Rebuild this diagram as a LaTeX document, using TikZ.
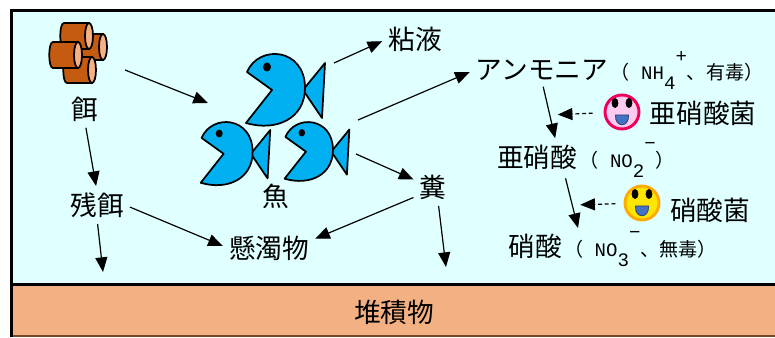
\documentclass[tikz,border=0pt]{standalone}
\usepackage{fontspec}
\newfontfamily\jp{Noto Sans CJK JP}
\newfontfamily\mono{Liberation Mono}
\usetikzlibrary{arrows.meta}

\definecolor{water}{RGB}{224,255,255}
\definecolor{silt}{RGB}{243,177,131}
\definecolor{siltedge}{RGB}{120,70,40}
\definecolor{fishblue}{RGB}{0,176,240}
\definecolor{logbrown}{RGB}{197,90,17}
\definecolor{logend}{RGB}{244,177,131}
\definecolor{pinkface}{RGB}{255,204,240}
\definecolor{pinkrim}{RGB}{236,0,90}
\definecolor{yellowface}{RGB}{255,230,0}
\definecolor{yellowrim}{RGB}{255,170,0}
\definecolor{tongue}{RGB}{68,114,196}

% ion charge: lowered count, raised sign
\newcommand\ion[2]{\raisebox{-0.55em}{#1}\raisebox{0.9em}{#2}}

\tikzset{
  lbl/.style={inner sep=0.75pt, font=\jp\fontsize{20}{22}\selectfont},
  chem/.style={inner sep=0.75pt, font=\jp\fontsize{14.3}{16}\selectfont},
  arr/.style={-{Triangle[length=11pt,width=9pt]}, line width=0.9pt},
  darr/.style={arr, densely dashed},
  gap/.style={shorten <=4pt, shorten >=4pt},
  pics/fish/.style={code={
    \begin{scope}[yscale=-1]
    \filldraw[fill=fishblue, line width=1.3pt, line join=round] (26,2) -- (48,-25) -- (45,30) -- cycle;
    \filldraw[fill=fishblue, line width=1.3pt, line join=round] (-5,2) -- (-30,-16) .. controls (-18,-44) and (28,-40) .. (28,0) .. controls (28,30) and (0,44) .. (-31,35) -- cycle;
    \fill (-10,-21) ellipse (4 and 4.5);
    \end{scope}
  }},
  pics/feedlog/.style={code={
    \filldraw[fill=logbrown, line width=1.3pt] (4,-13) -- (29,-13) -- (29,13) -- (4,13) .. controls (-1,13) and (-1,-13) .. (4,-13) -- cycle;
    \filldraw[fill=logend, line width=1.3pt] (29,0) ellipse (4 and 13);
  }},
  pics/face/.style 2 args={code={
    \begin{scope}[yscale=-1]
    \filldraw[fill=#1, draw=#2, line width=2.2pt] (0,0) circle (17);
    \fill (-7,-9) ellipse (3.4 and 5);
    \fill (7,-9) ellipse (3.4 and 5);
    \filldraw[fill=tongue, draw=tongue!60!black, line width=0.6pt] (-6.5,3) -- (6.5,3) .. controls (7.5,16) and (-7.5,16) .. (-6.5,3) -- cycle;
    \end{scope}
  }}
}

\begin{document}
\begin{tikzpicture}[x=0.75pt,y=0.75pt,yscale=-1,xscale=1]
\useasboundingbox (0,0) rectangle (775,338);
% tank and sediment layer
\fill[water] (11,11) rectangle (790,285);
\fill[silt] (11,285) rectangle (790,336);
\draw[siltedge, line width=1pt] (11,336) -- (790,336);
\draw[line width=2.25pt] (790,11) -- (11,11) -- (11,337);
\draw[line width=2.25pt] (11,285) -- (790,285);

% feed pellets
\pic at (74,47) {feedlog};
\pic at (60,36) {feedlog};
\pic at (63,70) {feedlog};
\pic at (49,55) {feedlog};

% fish
\pic at (277,88) {fish};
\pic[scale=0.88] at (228,152) {fish};
\pic[scale=0.82] at (310,150) {fish};

% bacteria
\pic at (622,112) {face={pinkface}{pinkrim}};
\coordinate (nitritebug) at (622,112);
\pic at (642,203) {face={yellowface}{yellowrim}};
\coordinate (nitratebug) at (642,203);

% Text Node
\node[lbl] (esa) at (85,109) {餌};
% Text Node
\node[lbl] (zanji) at (97,205) {残餌};
% Text Node
\node[lbl] (sakana) at (276,196) {魚};
% Text Node
\node[lbl] (nenneki) at (415,39) {粘液};
% Text Node
\node[lbl] (fun) at (433,187) {糞};
% Text Node
\node[lbl] (kendaku) at (269,248) {懸濁物};
% Text Node
\node[lbl] (taiseki) at (394,312) {堆積物};
% Text Node
\node[lbl] (ammonia) at (542,70) {アンモニア};
\node[chem, anchor=base west] (ammoniaform) at (ammonia.base east) {（{\mono\ NH\ion{4}{+}}、有毒）};
% Text Node
\node[lbl] (nitrite) at (537,157) {亜硝酸};
\node[chem, anchor=base west] (nitriteform) at (nitrite.base east) {（{\mono\ NO\ion{2}{−}}）};
% Text Node
\node[lbl] (nitrate) at (535,246) {硝酸};
\node[chem, anchor=base west] (nitrateform) at (nitrate.base east) {（{\mono\ NO\ion{3}{−}}、無毒）};
% Text Node
\node[lbl] (nitritebac) at (703,113) {亜硝酸菌};
% Text Node
\node[lbl] (nitratebac) at (710,210) {硝酸菌};

% arrow ends away from labels
\coordinate (feedout) at (125,70);
\coordinate (fishin) at (208,103);
\coordinate (mucusout) at (334,63);
\coordinate (gasout) at (358,120);
\coordinate (wasteout) at (356,154);
\coordinate (sink1) at (103,272);
\coordinate (sink2) at (446,267);
\coordinate (nitratein) at (578,228);

\draw[arr] (feedout) -- (fishin);
\draw[arr, gap] (esa.south) -- (zanji.north);
\draw[arr, shorten <=4pt] (zanji.south) -- (sink1);
\draw[arr, gap] (zanji.east) -- (kendaku.west);
\draw[arr, shorten >=4pt] (mucusout) -- (nenneki.west);
\draw[arr, shorten >=4pt] (gasout) -- (ammonia.west);
\draw[arr, shorten >=4pt] (wasteout) -- (fun.160);
\draw[arr, gap] (fun.210) -- (kendaku.10);
\draw[arr, shorten <=4pt] (fun.-70) -- (sink2);
\draw[arr, gap] (ammonia.south) -- (nitrite.35) coordinate[pos=0.54] (ammoniastep);
\draw[arr, shorten <=6pt] (nitrite.-27) -- (nitratein) coordinate[pos=0.6] (nitritestep);
\draw[darr, shorten <=22pt, shorten >=6pt] (nitritebug) -- (ammoniastep);
\draw[darr, shorten <=20pt, shorten >=6pt] (nitratebug) -- (nitritestep);
\end{tikzpicture}
\end{document}
